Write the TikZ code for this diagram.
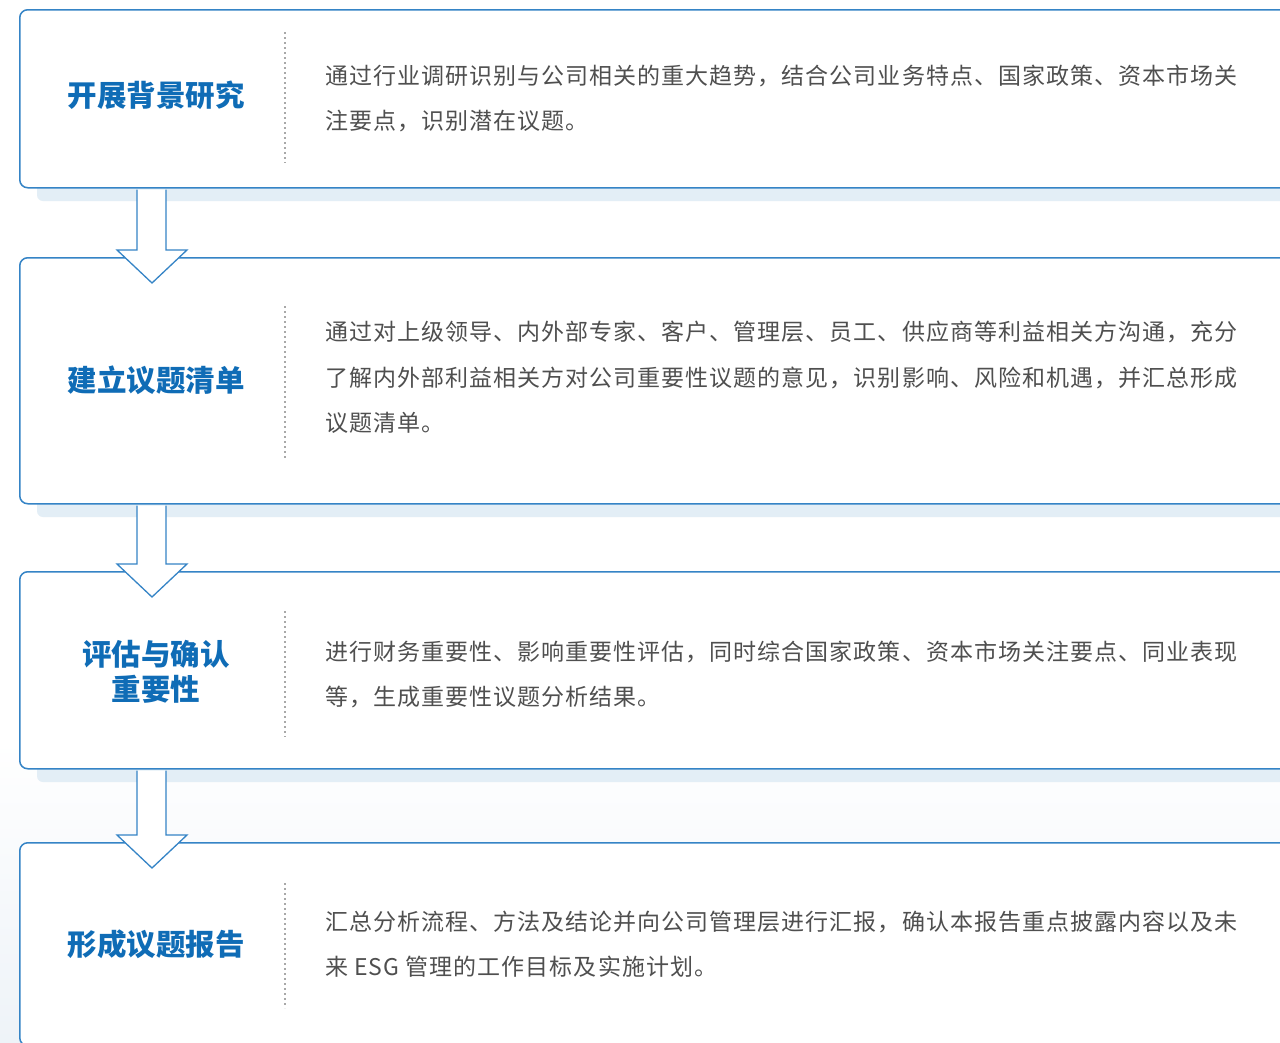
\documentclass[tikz,border=0pt]{standalone}
\usepackage{fontspec}
\setmainfont{Noto Sans CJK SC}
\newfontfamily\cjk{Noto Sans CJK SC}
\newfontfamily\bodyfont[LetterSpace=4.5]{Noto Sans CJK SC}
\usetikzlibrary{calc}
\definecolor{bord}{HTML}{3584C6}
\definecolor{ttl}{HTML}{0F6CB6}
\definecolor{bodyc}{HTML}{4F4F4F}
\definecolor{shad}{HTML}{E3EEF6}
\definecolor{dotc}{HTML}{A8A8A8}
\definecolor{bgb}{HTML}{EEF3F8}
\begin{document}
\begin{tikzpicture}[x=1pt,y=-1pt,
 stepbox/.style={draw=bord, line width=1.5pt, fill=white, rounded corners=8pt, anchor=north west, inner sep=0pt, minimum width=1290pt},
 shadowbar/.style={fill=shad, rounded corners=6pt},
 titletext/.style={font=\cjk\fontsize{29.5}{35}\selectfont\bfseries, text=ttl, align=center, inner sep=0pt},
 bodytext/.style={font=\bodyfont\fontsize{23}{45}\selectfont, text=bodyc, anchor=west, inner sep=0pt},
 divider/.style={draw=dotc, line width=2pt, dash pattern=on 2pt off 3pt},
 blockarrow/.style={draw=bord, line width=1.3pt, fill=white, line join=miter}
]
\useasboundingbox (0,0) rectangle (1280,1042);
\clip (0,0) rectangle (1280,1042);
\fill[white] (0,0) rectangle (1280,1042);
\shade[top color=white, bottom color=bgb] (0,740) rectangle (1280,1042);

% shadows
\fill[shadowbar] (37,167) rectangle (1300,201);
\fill[shadowbar] (37,483) rectangle (1300,517);
\fill[shadowbar] (37,748) rectangle (1300,782);

% boxes
\node[stepbox, minimum height=178pt] (b1) at (19,9) {};
\node[stepbox, minimum height=246pt] (b2) at (19,257) {};
\node[stepbox, minimum height=197pt] (b3) at (19,571) {};
\node[stepbox, minimum height=203pt] (b4) at (19,842) {};

% titles
\node[titletext] (t1) at (156,95) {开展背景研究};
\node[titletext] (t2) at (156,380) {建立议题清单};
\node[titletext] (t3) at (156,672) {评估与确认\\重要性};
\node[titletext] (t4) at (156,944) {形成议题报告};

% dividers
\draw[divider] (285,32) -- (285,163);
\draw[divider] (285,306) -- (285,460);
\draw[divider] (285,611) -- (285,737);
\draw[divider] (285,883) -- (285,1008);

% body text
\node[bodytext] (p1a) at (325,76) {通过行业调研识别与公司相关的重大趋势，结合公司业务特点、国家政策、资本市场关};
\node[bodytext] (p1b) at (325,121) {注要点，识别潜在议题。};
\node[bodytext] (p2a) at (325,332) {通过对上级领导、内外部专家、客户、管理层、员工、供应商等利益相关方沟通，充分};
\node[bodytext] (p2b) at (325,378) {了解内外部利益相关方对公司重要性议题的意见，识别影响、风险和机遇，并汇总形成};
\node[bodytext] (p2c) at (325,423) {议题清单。};
\node[bodytext] (p3a) at (325,652) {进行财务重要性、影响重要性评估，同时综合国家政策、资本市场关注要点、同业表现};
\node[bodytext] (p3b) at (325,697) {等，生成重要性议题分析结果。};
\node[bodytext] (p4a) at (325,922) {汇总分析流程、方法及结论并向公司管理层进行汇报，确认本报告重点披露内容以及未};
\node[bodytext] (p4b) at (325,967) {来 ESG 管理的工作目标及实施计划。};

% block arrows
\foreach \s/\t in {b1/b2, b2/b3, b3/b4}{
 \draw[blockarrow] let \p1=(\s.south west), \p2=(\t.north west) in
   (\x1+118pt,\y1-1pt) -- (\x1+118pt,\y2+7pt) -- (\x1+98pt,\y2+7pt) --
   (\x1+133pt,\y2-26pt) -- (\x1+168pt,\y2+7pt) -- (\x1+147pt,\y2+7pt) --
   (\x1+147pt,\y1-1pt);
}
\end{tikzpicture}
\end{document}
